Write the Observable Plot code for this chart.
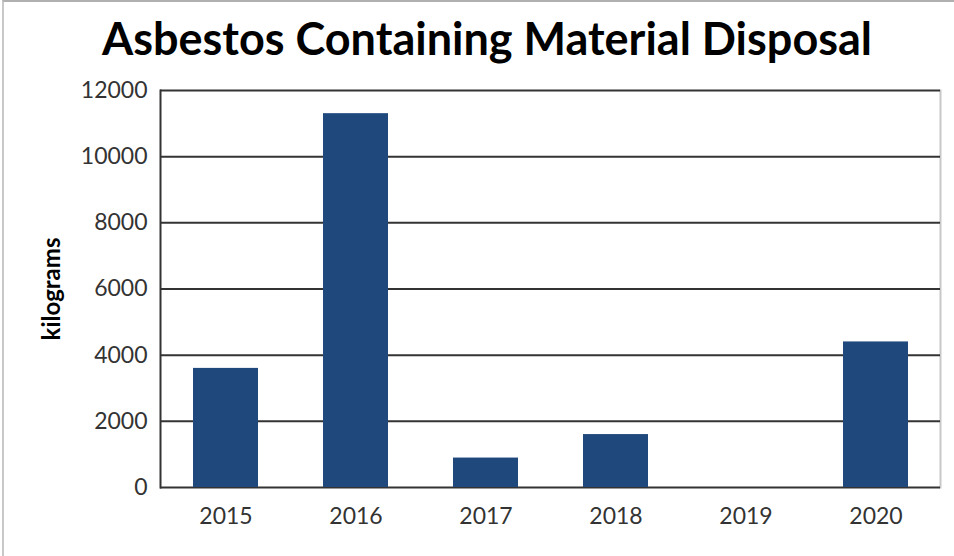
<!DOCTYPE html>
<html>
<head>
<meta charset="utf-8">
<script src="https://cdn.jsdelivr.net/npm/d3@7"></script>
<script src="https://cdn.jsdelivr.net/npm/@observablehq/plot@0.6"></script>
<style>
  html, body { margin: 0; padding: 0; background: #fff; }
  #wrap { height: 556px; box-sizing: border-box; position: relative; overflow: hidden;
          border-top: 2px solid #b0b0b0; border-left: 2px solid #c8c8c8; margin-left: 2px; width: 952px; }
  #title { height: 60px; font-family: Lato, sans-serif; font-weight: bold; white-space: nowrap;
           font-size: 45px; line-height: 72px; color: #000; position: relative; }
  #title span { position: absolute; left: 483px; transform: translateX(-50%); top: 0; }
</style>
</head>
<body>
<div id="wrap">
  <div id="title"><span>Asbestos Containing Material Disposal</span></div>
  <div id="chart"></div>
</div>
<script>
const years = ["2015", "2016", "2017", "2018", "2019", "2020"];
const kilograms = [3600, 11300, 890, 1600, 0, 4400];
const yTicks = [0, 2000, 4000, 6000, 8000, 10000, 12000];
const yLabel = "kilograms";

const data = years.map((y, i) => ({year: y, kg: kilograms[i]}));

const chart = Plot.plot({
  width: 950,
  height: 494,
  marginTop: 28,
  marginBottom: 69,
  marginLeft: 156,
  marginRight: 14,
  style: {fontFamily: "Lato, sans-serif", fontSize: "23px", color: "#333", background: "#fff", overflow: "visible"},
  x: {domain: years, paddingInner: 0.5, paddingOuter: 0.25, label: null, tickSize: 0, tickPadding: 20},
  y: {domain: [0, 12000], ticks: yTicks, label: null, tickSize: 0, tickPadding: 13, tickFormat: d => String(d)},
  marks: [
    Plot.frame({anchor: "right", stroke: "#c8c8c8", strokeWidth: 2}),
    Plot.ruleY(yTicks, {stroke: "#333", strokeWidth: 2}),
    Plot.barY(data, {x: "year", y: "kg", fill: "#1f497d"}),
    Plot.frame({anchor: "left", stroke: "#333", strokeWidth: 2}),
    Plot.text([yLabel], {frameAnchor: "left", dx: -108, rotate: -90, textAnchor: "middle", fontWeight: "bold", fontSize: 24, fill: "#000"})
  ]
});
document.getElementById("chart").appendChild(chart);
</script>
</body>
</html>
